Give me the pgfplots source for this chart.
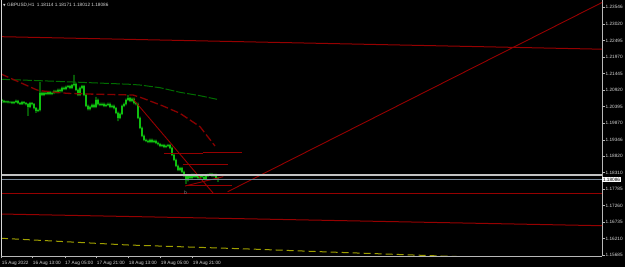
\documentclass[border=0pt]{standalone}
\usepackage{pgfplots}
\pgfplotsset{compat=1.18}
\usepackage{pgfplotstable}
\usepackage{fontspec}
\setmainfont{Liberation Sans}
\newfontfamily\symfont{DejaVu Sans}
\definecolor{candle}{RGB}{20,250,20}
\definecolor{tline}{RGB}{150,0,0}
\definecolor{maroonma}{RGB}{135,0,0}
\definecolor{greenma}{RGB}{0,110,0}
\definecolor{yelma}{RGB}{160,160,0}
\definecolor{fg}{RGB}{215,215,215}
\definecolor{bidline}{RGB}{119,136,153}

\pgfplotsset{base/.style={at={(0pt,0pt)}, anchor=south west,
  scale only axis, width=601pt, height=256pt,
  xmin=-0.5, xmax=300, ymin=1.15662, ymax=1.23777}}

\pgfplotstableread{
i o h l c
0 1.2061 1.2064 1.2051 1.2058
1 1.2058 1.2061 1.2051 1.2054
2 1.2054 1.2059 1.2051 1.2056
3 1.2056 1.2059 1.2050 1.2053
4 1.2053 1.2057 1.2050 1.2054
5 1.2054 1.2057 1.2048 1.2051
6 1.2051 1.2057 1.2048 1.2054
7 1.2054 1.2062 1.2051 1.2058
8 1.2058 1.2061 1.2048 1.2051
9 1.2051 1.2054 1.2045 1.2048
10 1.2048 1.2058 1.2045 1.2054
11 1.2054 1.2057 1.2047 1.2051
12 1.2051 1.2054 1.2044 1.2048
13 1.2048 1.2051 1.2010 1.2039
14 1.2039 1.2055 1.2035 1.2051
15 1.2051 1.2054 1.2044 1.2048
16 1.2048 1.2051 1.2031 1.2035
17 1.2035 1.2038 1.2020 1.2026
18 1.2026 1.2033 1.2022 1.2029
19 1.2029 1.2118 1.2025 1.2083
20 1.2083 1.2087 1.2073 1.2077
21 1.2077 1.2087 1.2073 1.2083
22 1.2083 1.2087 1.2076 1.2080
23 1.2080 1.2090 1.2076 1.2086
24 1.2086 1.2090 1.2076 1.2080
25 1.2080 1.2087 1.2076 1.2083
26 1.2083 1.2093 1.2079 1.2089
27 1.2089 1.2093 1.2082 1.2086
28 1.2086 1.2097 1.2082 1.2093
29 1.2093 1.2097 1.2085 1.2089
30 1.2089 1.2103 1.2085 1.2099
31 1.2099 1.2103 1.2092 1.2096
32 1.2096 1.2106 1.2092 1.2102
33 1.2102 1.2109 1.2098 1.2105
34 1.2105 1.2109 1.2095 1.2099
35 1.2099 1.2112 1.2095 1.2108
36 1.2108 1.2140 1.2104 1.2112
37 1.2112 1.2116 1.2089 1.2093
38 1.2093 1.2097 1.2073 1.2077
39 1.2077 1.2103 1.2073 1.2099
40 1.2099 1.2109 1.2095 1.2105
41 1.2105 1.2109 1.2073 1.2077
42 1.2077 1.2081 1.2038 1.2042
43 1.2042 1.2046 1.2028 1.2032
44 1.2032 1.2043 1.2028 1.2039
45 1.2039 1.2049 1.2035 1.2045
46 1.2045 1.2049 1.2035 1.2039
47 1.2039 1.2071 1.2035 1.2061
48 1.2061 1.2065 1.2044 1.2048
49 1.2048 1.2052 1.2041 1.2045
50 1.2045 1.2052 1.2041 1.2048
51 1.2048 1.2052 1.2038 1.2042
52 1.2042 1.2049 1.2038 1.2045
53 1.2045 1.2052 1.2041 1.2048
54 1.2048 1.2052 1.2035 1.2039
55 1.2039 1.2046 1.2035 1.2042
56 1.2042 1.2046 1.2031 1.2035
57 1.2035 1.2039 1.2016 1.2020
58 1.2020 1.2024 1.1994 1.2004
59 1.2004 1.2021 1.2000 1.2017
60 1.2017 1.2046 1.2013 1.2042
61 1.2042 1.2052 1.2038 1.2048
62 1.2048 1.2065 1.2044 1.2061
63 1.2061 1.2077 1.2057 1.2067
64 1.2067 1.2071 1.2054 1.2058
65 1.2058 1.2068 1.2054 1.2064
66 1.2064 1.2068 1.2047 1.2051
67 1.2051 1.2055 1.2044 1.2048
68 1.2048 1.2052 1.2000 1.2004
69 1.2004 1.2008 1.1968 1.1972
70 1.1972 1.1976 1.1943 1.1947
71 1.1947 1.1951 1.1930 1.1934
72 1.1934 1.1938 1.1927 1.1931
73 1.1931 1.1935 1.1924 1.1928
74 1.1928 1.1938 1.1924 1.1934
75 1.1934 1.1938 1.1924 1.1928
76 1.1928 1.1935 1.1924 1.1931
77 1.1931 1.1935 1.1921 1.1925
78 1.1925 1.1929 1.1917 1.1921
79 1.1921 1.1925 1.1911 1.1915
80 1.1915 1.1922 1.1911 1.1918
81 1.1918 1.1922 1.1908 1.1912
82 1.1912 1.1919 1.1908 1.1915
83 1.1915 1.1922 1.1911 1.1918
84 1.1918 1.1922 1.1905 1.1909
85 1.1909 1.1913 1.1883 1.1887
86 1.1887 1.1891 1.1867 1.1871
87 1.1871 1.1875 1.1848 1.1852
88 1.1852 1.1856 1.1835 1.1839
89 1.1839 1.1849 1.1835 1.1845
90 1.1845 1.1849 1.1829 1.1833
91 1.1833 1.1837 1.1816 1.1820
92 1.1820 1.1824 1.1795 1.1807
93 1.1807 1.1824 1.1803 1.1820
94 1.1820 1.1824 1.1810 1.1814
95 1.1814 1.1827 1.1810 1.1823
96 1.1823 1.1827 1.1813 1.1817
97 1.1817 1.1824 1.1813 1.1820
98 1.1820 1.1824 1.1810 1.1814
99 1.1814 1.1824 1.1810 1.1820
100 1.1820 1.1824 1.1813 1.1817
101 1.1817 1.1821 1.1807 1.1811
102 1.1811 1.1824 1.1807 1.1820
103 1.1820 1.1827 1.1816 1.1823
104 1.1823 1.1830 1.1819 1.1826
105 1.1826 1.1830 1.1816 1.1820
106 1.1820 1.1827 1.1816 1.1823
107 1.1823 1.1827 1.1808 1.18114
108 1.18114 1.18171 1.18012 1.18086
}\candles

\begin{document}
\begin{tikzpicture}
\path[use as bounding box, fill=black] (-1pt,-11pt) rectangle (624pt,256pt);
% candle wicks
\begin{axis}[base, hide axis, ybar stacked, bar width=0.7pt]
\addplot[draw=none, fill=none] table[x=i, y=l] {\candles};
\addplot[draw=none, fill=candle] table[x=i, y expr={\thisrow{h}-\thisrow{l}}] {\candles};
\end{axis}
% candle bodies
\begin{axis}[base, hide axis, ybar stacked, bar width=1.4pt]
\addplot[draw=none, fill=none] table[x=i, y expr={min(\thisrow{o},\thisrow{c})}] {\candles};
\addplot[draw=none, fill=candle] table[x=i, y expr={max(abs(\thisrow{c}-\thisrow{o}),0.0001)}] {\candles};
\end{axis}
\begin{axis}[
  base,
  clip mode=individual,
  axis x line*=bottom, axis y line*=right,
  axis line style={-, draw=fg!85!black, line width=0.6pt},
  tick align=outside, major tick length=2.5pt,
  tick style={draw=fg!85!black, line width=0.5pt},
  xtick={-0.15,15.35,31.5,47.35,63.35,79.35,95.35},
  xticklabels={15 Aug 2022,16 Aug 13:00,17 Aug 05:00,17 Aug 21:00,18 Aug 13:00,19 Aug 05:00,19 Aug 21:00},
  ytick={1.15685,1.16210,1.16735,1.17260,1.17785,1.18310,1.18820,1.19346,1.19870,1.20395,1.20920,1.21445,1.21970,1.22495,1.23020,1.23546},
  yticklabels={1.15685,1.16210,1.16735,1.17260,1.17785,1.18310,1.18820,1.19346,1.19870,1.20395,1.20920,1.21445,1.21970,1.22495,1.23020,1.23546},
  xticklabel style={anchor=north west, inner sep=0pt, yshift=-2.3pt, text=fg, font=\fontsize{4.7}{5}\selectfont},
  yticklabel style={anchor=west, inner sep=0pt, xshift=1pt, text=fg, font=\fontsize{4.7}{5}\selectfont},
  /pgf/number format/assume math mode=true,
]
% long trend lines
\addplot[tline, line width=1pt] coordinates {(-0.5,1.22614) (300,1.22217)};
\addplot[tline, line width=1pt] coordinates {(-0.5,1.16993) (300,1.16622)};
\addplot[tline, line width=0.9pt] coordinates {(-0.5,1.17649) (300,1.17649)};
\addplot[tline, line width=0.9pt] coordinates {(112.85,1.17700) (300,1.23698)};
% moving averages
\addplot[yelma, line width=1pt, dash pattern=on 7pt off 4pt] coordinates {(-0.5,1.16224) (62.5,1.16012) (127.5,1.15875) (159,1.15799) (219,1.15663) (240,1.1562)};
\addplot[greenma, line width=1pt, dash pattern=on 9pt off 2pt] coordinates {(-0.5,1.21263) (19,1.21219) (64,1.21105) (69,1.21082) (79,1.20997) (89,1.20851) (99,1.20743) (107.5,1.20629)};
\addplot[maroonma, line width=1.3pt, dash pattern=on 8pt off 3pt] coordinates {(-0.5,1.21431) (17.5,1.20924) (20.5,1.20892) (32.5,1.20819) (42.5,1.20797) (65.5,1.20765) (70.5,1.20661) (80.5,1.20417) (89,1.20185) (99,1.19761) (106.5,1.19149)};
% short trend lines
\addplot[tline, line width=0.9pt] coordinates {(65.65,1.20629) (105.65,1.17649)};
\addplot[tline, line width=0.9pt] coordinates {(81,1.18917) (100.5,1.18917)};
\addplot[tline, line width=0.9pt] coordinates {(100.5,1.18949) (119.85,1.18949)};
\addplot[tline, line width=0.9pt] coordinates {(90.35,1.18569) (112.85,1.18569)};
\addplot[tline, line width=0.9pt] coordinates {(92.35,1.17912) (114.85,1.17912)};
\addplot[tline, line width=0.9pt] coordinates {(91.5,1.17881) (110.65,1.18176)};
% horizontal gray lines
\addplot[fg!90!black, line width=2pt] coordinates {(-0.5,1.18239) (300,1.18239)};
\addplot[bidline, line width=0.7pt] coordinates {(-0.5,1.18086) (300,1.18086)};
% annotations
\node[text=gray, font=\fontsize{5}{5}\selectfont, inner sep=0pt] at (axis cs:91.75,1.17658) {b};
\node[anchor=west, fill=white, text=black, inner xsep=0.8pt, inner ysep=0.7pt, font=\fontsize{4.7}{5}\selectfont] at (axis cs:300,1.18086) {1.18086};
\draw[fg, line width=0.8pt] (rel axis cs:0,0) -- (rel axis cs:0,1);
\end{axis}
\node[anchor=west, inner sep=0pt, text=fg, font=\fontsize{4.7}{5}\selectfont] at (2pt,251pt) {{\symfont\fontsize{3.3}{4}\selectfont ▼}\hspace{1.5pt}GBPUSD,H1\hspace{2.5pt}1.18114 1.18171 1.18012 1.18086};
\end{tikzpicture}
\end{document}
